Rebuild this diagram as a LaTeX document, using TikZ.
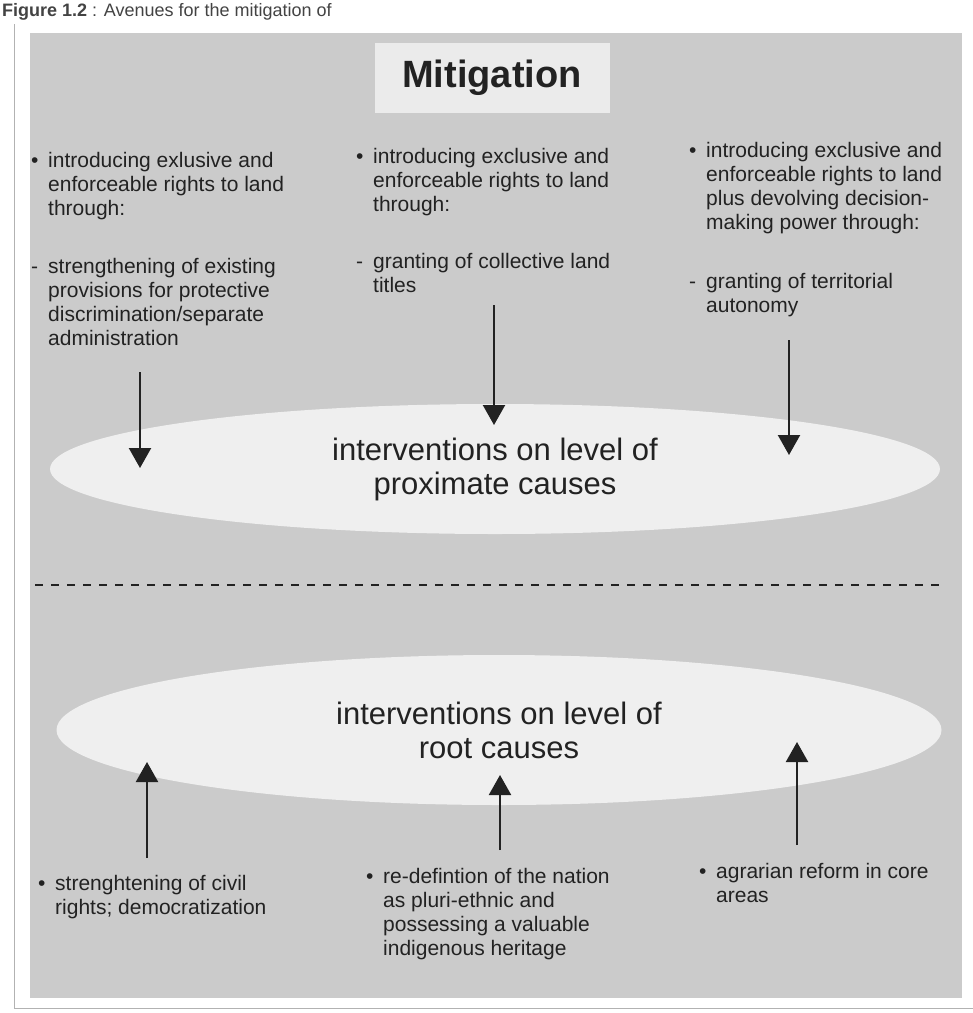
\documentclass[tikz,border=0pt]{standalone}
\usepackage{fontspec}
\setmainfont{Liberation Sans}
\usetikzlibrary{arrows.meta}
\usetikzlibrary{shapes.geometric}

\definecolor{panel}{HTML}{CBCBCB}
\definecolor{ovalbg}{HTML}{EFEFEF}
\definecolor{titlebg}{HTML}{EBEBEB}
\definecolor{ink}{HTML}{222222}

\tikzset{
  txt/.style = {anchor = north west, inner sep = 0pt, align = left, text = ink,
                font = \fontsize{21}{24}\selectfont},
  oval/.style = {ellipse, fill = ovalbg, inner sep = 0pt, align = center, text = ink,
                 font = \fontsize{31}{34}\selectfont},
  arr/.style = {ink, line width = 2.2pt, -{Triangle[width = 22pt, length = 20pt]}},
}
\newcommand{\bul}{\makebox[17pt][l]{\textbullet}}
\newcommand{\dsh}{\makebox[17pt][l]{-}}
\newcommand{\ind}{\hspace*{17pt}}

\begin{document}
\begin{tikzpicture}[x = 1pt, y = -1pt]
    \useasboundingbox (0,0) rectangle (973,1013);
    % scanned page: frame and grey panel
    \draw [gray!60, line width = 1pt] (14,24) -- (14,1008) -- (973,1008);
    \fill [panel] (30,33) rectangle (962,998);

    % caption at the top edge
    \node [anchor = base west, inner sep = 0pt, text = ink!85,
           font = \fontsize{18}{22}\selectfont] (caption) at (2,16)
        {\textbf{Figure 1.2} : Avenues for the mitigation of};

    \node [fill = titlebg, minimum width = 235pt, minimum height = 70pt, text = ink,
           font = \fontsize{38}{42}\selectfont\bfseries] (title) at (492,78) {Mitigation};

    % upper row
    \node [txt] (left) at (31,152) {\bul introducing exlusive and\\
        \ind enforceable rights to land\\
        \ind through:\\[34pt]
        \dsh strengthening of existing\\
        \ind provisions for protective\\
        \ind discrimination/separate\\
        \ind administration};
    \node [txt] (mid) at (356,148) {\bul introducing exclusive and\\
        \ind enforceable rights to land\\
        \ind through:\\[33pt]
        \dsh granting of collective land\\
        \ind titles};
    \node [txt] (right) at (689,142) {\bul introducing exclusive and\\
        \ind enforceable rights to land\\
        \ind plus devolving decision-\\
        \ind making power through:\\[35pt]
        \dsh granting of territorial\\
        \ind autonomy};

    \node [oval, minimum width = 890pt, minimum height = 130pt] (prox) at (495,469)
        {interventions on level of\\proximate causes};

    \coordinate (lefttop) at (140,372);
    \coordinate (leftend) at (140,468);
    \coordinate (midtop) at (494,305);
    \coordinate (midend) at (494,425);
    \coordinate (righttop) at (789,340);
    \coordinate (rightend) at (789,455);
    \draw [arr] (lefttop) -- (leftend);
    \draw [arr] (midtop) -- (midend);
    \draw [arr] (righttop) -- (rightend);

    % levels apart
    \draw [ink, line width = 1.5pt, dash pattern = on 8pt off 8pt] (35,585) -- (942,585);

    % lower row
    \node [oval, minimum width = 885pt, minimum height = 150pt] (root) at (499,730)
        {interventions on level of\\root causes};

    \node [txt] (civil) at (38,875) {\bul strenghtening of civil\\
        \ind rights; democratization};
    \node [txt] (nation) at (366,868) {\bul re-defintion of the nation\\
        \ind as pluri-ethnic and\\
        \ind possessing a valuable\\
        \ind indigenous heritage};
    \node [txt] (agrar) at (699,863) {\bul agrarian reform in core\\
        \ind areas};

    \coordinate (civilbot) at (147,858);
    \coordinate (civilend) at (147,762);
    \coordinate (nationbot) at (500,850);
    \coordinate (nationend) at (500,775);
    \coordinate (agrarbot) at (797,845);
    \coordinate (agrarend) at (797,742);
    \draw [arr] (civilbot) -- (civilend);
    \draw [arr] (nationbot) -- (nationend);
    \draw [arr] (agrarbot) -- (agrarend);
\end{tikzpicture}
\end{document}
